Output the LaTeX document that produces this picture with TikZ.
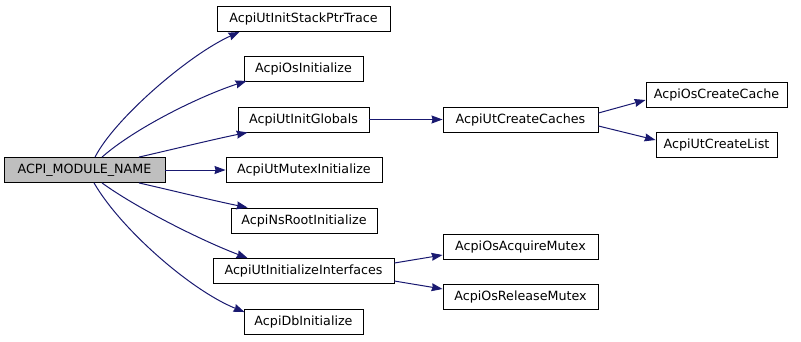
\documentclass[tikz,border=0pt]{standalone}
\usepackage{fontspec}
\setmainfont{DejaVu Sans}
\usetikzlibrary{arrows.meta,calc}
\definecolor{edgeblue}{HTML}{191970}
\definecolor{rootgray}{HTML}{BFBFBF}
\tikzset{
  fn/.style={draw=black, line width=0.9pt, fill=white, minimum height=25pt,
    inner sep=0pt, font=\fontsize{12.7}{14}\selectfont, text=black},
  rootfn/.style={fn, fill=rootgray},
  call/.style={draw=edgeblue, line width=1pt,
    -{Stealth[length=11pt,width=8pt,inset=1pt]}},
}
\begin{document}
\begin{tikzpicture}[x=1pt,y=-1pt]
\useasboundingbox (0,0) rectangle (801,341);
% functions
\node[rootfn, minimum width=161pt] (root) at (84.5,170) {ACPI\_MODULE\_NAME};
\node[fn, minimum width=173pt] (stack) at (303.5,19) {AcpiUtInitStackPtrTrace};
\node[fn, minimum width=119pt] (osinit) at (303.5,69) {AcpiOsInitialize};
\node[fn, minimum width=131pt] (globals) at (303.5,119.5) {AcpiUtInitGlobals};
\node[fn, minimum width=156pt] (mutex) at (304,170) {AcpiUtMutexInitialize};
\node[fn, minimum width=146pt] (nsroot) at (304,220.5) {AcpiNsRootInitialize};
\node[fn, minimum width=181pt] (iface) at (303.5,271) {AcpiUtInitializeInterfaces};
\node[fn, minimum width=119pt] (dbinit) at (303.5,322) {AcpiDbInitialize};
\node[fn, minimum width=155pt] (caches) at (520.5,119.5) {AcpiUtCreateCaches};
\node[fn, minimum width=141pt] (oscache) at (716.5,95) {AcpiOsCreateCache};
\node[fn, minimum width=121pt] (clist) at (716.5,144.5) {AcpiUtCreateList};
\node[fn, minimum width=155pt] (acq) at (520.5,246.5) {AcpiOsAcquireMutex};
\node[fn, minimum width=155pt] (rel) at (520.5,296.5) {AcpiOsReleaseMutex};
% calls from the root
\draw[call] ($(root.north west)+(91.5,0)$) .. controls (115,118) and (190,54) .. ($(stack.south west)+(23,0)$);
\draw[call] ($(root.north west)+(98.5,0)$) .. controls (135,128) and (200,96) .. ($(osinit.south west)+(3,-1)$);
\draw[call] ($(root.north west)+(135.5,0)$) .. controls (170,150) and (215,139) .. ($(globals.south west)+(10,0)$);
\draw[call] (root.east) -- (mutex.west);
\draw[call] ($(root.south west)+(135.5,0)$) .. controls (170,190) and (215,201) .. ($(nsroot.north west)+(17,0)$);
\draw[call] ($(root.south west)+(98.5,0)$) .. controls (135,207) and (200,240) .. ($(iface.north west)+(35,0)$);
\draw[call] ($(root.south west)+(90.5,0)$) .. controls (120,228) and (190,290) .. ($(dbinit.north west)+(1,3)$);
% second-level calls
\draw[call] (globals.east) -- (caches.west);
\draw[call] ($(caches.east)+(0,-6.5)$) -- ($(oscache.west)+(0,5)$);
\draw[call] ($(caches.east)+(0,6.5)$) -- ($(clist.west)+(0,-4.5)$);
\draw[call] ($(iface.east)+(0,-8)$) -- ($(acq.west)+(0,8.5)$);
\draw[call] ($(iface.east)+(0,10)$) -- ($(rel.west)+(0,-7.5)$);
\end{tikzpicture}
\end{document}
